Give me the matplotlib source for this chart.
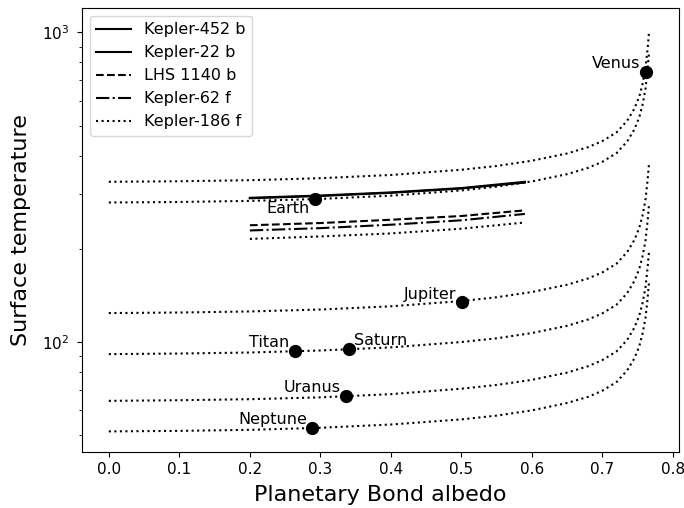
import matplotlib
matplotlib.use("Agg")
import matplotlib.pyplot as plt

# albedo grid for the solar-system reference curves
albedo = [0.0, 0.1, 0.2, 0.3, 0.4, 0.5, 0.55, 0.6, 0.65, 0.68, 0.7, 0.72,
          0.735, 0.745, 0.752, 0.757, 0.761, 0.764, 0.766]

# surface temperature (K)
t_venus = [329.0, 330.3, 332.9, 337.9, 346.1, 359.9, 370.1, 384.9, 406.3, 426.1,
           445.8, 475.4, 518.2, 565.9, 618.5, 684.3, 766.6, 888.3, 1003.5]
t_earth = [282.0, 283.1, 285.4, 289.6, 296.7, 308.5, 317.3, 329.9, 348.3, 365.2,
           382.1, 407.5, 444.2, 485.0, 530.2, 586.6, 657.1, 761.4, 860.1]
t_jupiter = [123.8, 124.3, 125.3, 127.1, 130.2, 135.4, 139.3, 144.8, 152.9, 160.3,
             167.7, 178.9, 195.0, 212.9, 232.7, 257.5, 288.5, 334.3, 377.6]
t_saturn = [91.2, 91.6, 92.3, 93.7, 95.9, 99.8, 102.6, 106.7, 112.6, 118.1,
            123.6, 131.8, 143.6, 156.9, 171.5, 189.7, 212.5, 246.2, 278.2]
t_uranus = [64.4, 64.7, 65.2, 66.1, 67.7, 70.5, 72.5, 75.3, 79.5, 83.4,
            87.3, 93.1, 101.4, 110.8, 121.1, 134.0, 150.1, 173.9, 196.4]
t_neptune = [51.3, 51.5, 51.9, 52.7, 54.0, 56.1, 57.7, 60.0, 63.4, 66.4,
             69.5, 74.1, 80.8, 88.2, 96.4, 106.7, 119.5, 138.5, 156.5]
solar_curves = [t_venus, t_earth, t_jupiter, t_saturn, t_uranus, t_neptune]

# exoplanets
exo_albedo = [0.2, 0.3, 0.4, 0.5, 0.59]
exo_names = ["Kepler-452 b", "Kepler-22 b", "LHS 1140 b", "Kepler-62 f", "Kepler-186 f"]
exo_temps = [
    [292, 297, 304, 314, 329],
    [291, 296, 303, 313, 327],
    [238, 242, 248, 255, 266],
    [229, 233, 239, 247, 259],
    [215, 219, 224, 232, 243],
]
exo_styles = ["-", "-", "--", "-.", ":"]

# solar-system bodies
body_names = ["Venus", "Earth", "Jupiter", "Titan", "Saturn", "Uranus", "Neptune"]
body_albedo = [0.761, 0.293, 0.501, 0.2635, 0.340, 0.336, 0.2887]
body_temp = [744, 289, 134, 93.5, 95, 67, 52.7]

fig = plt.figure(figsize=(6.84, 5.08), dpi=100)
ax = fig.add_axes([0.1194, 0.1102, 0.8733, 0.8741])

for name, temps, ls in zip(exo_names, exo_temps, exo_styles):
    ax.plot(exo_albedo, temps, ls, color="black", lw=1.5, label=name)

for temps in solar_curves:
    ax.plot(albedo, temps, ":", color="black", lw=1.5)

ax.plot(body_albedo, body_temp, "o", color="black", ms=8.5, zorder=5)

for name, a, t in zip(body_names, body_albedo, body_temp):
    if name == "Saturn":
        ax.annotate(name, (a, t), xytext=(4, 0.5), textcoords="offset points",
                    ha="left", va="bottom", fontsize=11.5)
    elif name == "Earth":
        ax.annotate(name, (a, t), xytext=(-4, -1.5), textcoords="offset points",
                    ha="right", va="top", fontsize=11.5)
    else:
        ax.annotate(name, (a, t), xytext=(-4, 0.5), textcoords="offset points",
                    ha="right", va="bottom", fontsize=11.5)

ax.set_yscale("log")
ax.set_xlim(-0.0385, 0.8085)
ax.set_ylim(44, 1200)
ax.set_xticks([0.0, 0.1, 0.2, 0.3, 0.4, 0.5, 0.6, 0.7, 0.8])
ax.tick_params(labelsize=11)
ax.tick_params(axis="y", which="major", pad=5.5)
ax.set_xlabel("Planetary Bond albedo", fontsize=16, labelpad=6)
ax.set_ylabel("Surface temperature", fontsize=16, labelpad=8)
ax.legend(loc="upper left", fontsize=11.5, handlelength=2.2)

fig.savefig("out.png", dpi=100)
